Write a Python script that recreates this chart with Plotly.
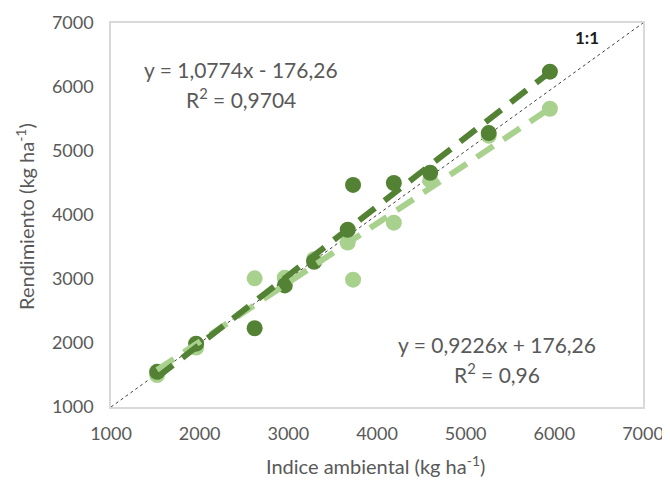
import plotly.graph_objects as go

# Data
indice = [1520, 1960, 2620, 2960, 3290, 3670, 3730, 4190, 4600, 5260, 5950]
rend_oscuro = [1550, 1990, 2230, 2900, 3270, 3770, 4470, 4500, 4660, 5280, 6240]
rend_claro = [1500, 1930, 3010, 3020, 3310, 3570, 2990, 3880, 4540, 5240, 5660]

coef_oscuro = (1.0774, -176.26)
coef_claro = (0.9226, 176.26)

ticks = [1000, 2000, 3000, 4000, 5000, 6000, 7000]

DARK = "#548235"
LIGHT = "#A9D18E"
GRAY = "#595959"
FONT = "Lato"

fig = go.Figure()

# 1:1 line
fig.add_trace(go.Scatter(x=[1000, 7000], y=[1000, 7000], mode="lines",
                         line=dict(color="#404040", width=1, dash="dot"),
                         showlegend=False, hoverinfo="skip"))

fig.add_trace(go.Scatter(x=indice, y=rend_claro, mode="markers",
                         marker=dict(color=LIGHT, size=16), showlegend=False))
fig.add_trace(go.Scatter(x=indice, y=rend_oscuro, mode="markers",
                         marker=dict(color=DARK, size=16), showlegend=False))

xs = [min(indice), max(indice)]
fig.add_trace(go.Scatter(x=xs, y=[coef_claro[0] * v + coef_claro[1] for v in xs],
                         mode="lines", line=dict(color=LIGHT, width=6, dash="20px,12px"),
                         showlegend=False))
fig.add_trace(go.Scatter(x=xs, y=[coef_oscuro[0] * v + coef_oscuro[1] for v in xs],
                         mode="lines", line=dict(color=DARK, width=6, dash="20px,12px"),
                         showlegend=False))

ann_font = dict(family=FONT, size=21, color=GRAY)
fig.add_annotation(x=2466, y=6266, text="y = 1,0774x - 176,26", showarrow=False,
                   xanchor="center", yanchor="middle", font=ann_font)
fig.add_annotation(x=2466, y=5828, text="R<sup>2</sup> = 0,9704", showarrow=False,
                   xanchor="center", yanchor="middle", font=ann_font)
fig.add_annotation(x=5353, y=1969, text="y = 0,9226x + 176,26", showarrow=False,
                   xanchor="center", yanchor="middle", font=ann_font)
fig.add_annotation(x=5353, y=1531, text="R<sup>2</sup> = 0,96", showarrow=False,
                   xanchor="center", yanchor="middle", font=ann_font)
fig.add_annotation(x=6368, y=6766, text="<b>1:1</b>", showarrow=False,
                   xanchor="center", yanchor="middle",
                   font=dict(family=FONT, size=17, color="#1a1a1a"))

# Axis titles
title_font = dict(family=FONT, size=20, color=GRAY)
fig.add_annotation(xref="paper", yref="paper", x=0.498, y=-0.151,
                   text="Indice ambiental (kg ha<sup>-1</sup>)", showarrow=False,
                   xanchor="center", yanchor="middle", font=title_font)
fig.add_annotation(xref="paper", yref="paper", x=-0.162, y=0.497,
                   text="Rendimiento (kg ha<sup>-1</sup>)", showarrow=False, textangle=-90,
                   xanchor="center", yanchor="middle", font=title_font)

axis_common = dict(range=[1000, 7000], tickvals=ticks, showgrid=False, zeroline=False,
                   showline=True, linecolor="#D9D9D9", linewidth=1.5, mirror=True,
                   ticks="", automargin=False,
                   tickfont=dict(family=FONT, size=18, color=GRAY))

# page body has an 8px default margin, so the figure is 8px smaller and shifted
fig.update_layout(
    width=662, height=474,
    margin=dict(l=103, r=27, t=15, b=75),
    paper_bgcolor="white", plot_bgcolor="white",
    xaxis=dict(**axis_common, ticklabelstandoff=10),
    yaxis=dict(**axis_common, ticklabelstandoff=12),
)

fig.write_html("out.html")
